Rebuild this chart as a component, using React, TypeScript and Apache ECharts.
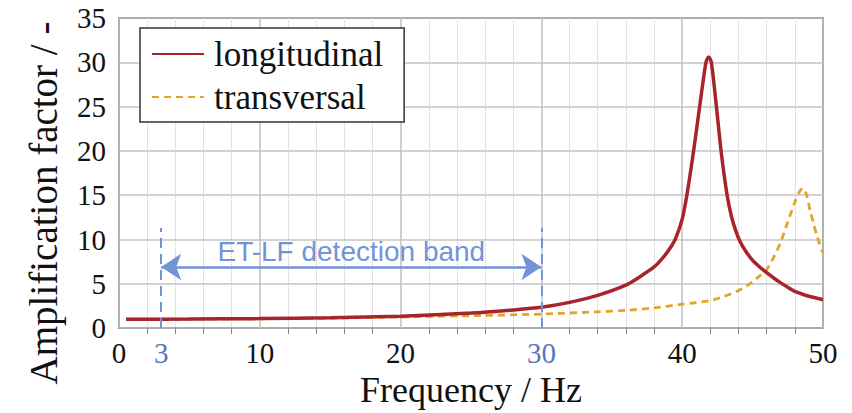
import React, { useEffect, useRef } from "react";
import * as echarts from "echarts";

const longFreq = [0.5, 5, 10, 15, 20, 25, 28, 30, 32, 34, 36, 37, 38, 38.5, 39, 39.5, 40, 40.33, 40.81, 41.24, 41.69, 41.88, 42.07, 42.43, 42.76, 43.19, 43.5, 43.8, 44.1, 44.5, 45, 45.5, 46, 46.5, 47, 47.5, 48, 48.5, 49, 49.5, 50];
const longAmp = [1.0, 1.02, 1.07, 1.16, 1.35, 1.7, 2.05, 2.35, 2.9, 3.7, 4.85, 5.8, 6.9, 7.7, 8.7, 10.0, 12.3, 15, 20, 25, 30, 30.6, 30, 25, 20, 15, 12.6, 11.0, 9.8, 8.7, 7.65, 6.9, 6.25, 5.65, 5.1, 4.6, 4.15, 3.85, 3.6, 3.4, 3.2];

const transFreq = [0.5, 5, 10, 15, 20, 25, 30, 34, 36, 38, 40, 42, 43, 44, 45, 45.5, 46, 46.5, 47, 47.5, 48, 48.3, 48.56, 48.8, 49.08, 49.3, 49.55, 50];
const transAmp = [1.0, 1.0, 1.05, 1.12, 1.25, 1.4, 1.58, 1.84, 2.0, 2.28, 2.7, 3.1, 3.6, 4.23, 5.2, 5.9, 6.6, 8.0, 9.7, 12.0, 14.2, 15.3, 15.8, 15.2, 13.3, 12.0, 10.5, 8.5];

const xTickLabels = [0, 3, 10, 20, 30, 40, 50];
const bandStart = 3;
const bandEnd = 30;
const bandLineTop = 11.3;
const bandArrowLevel = 6.9;
const bandLabel = "ET-LF detection band";
const seriesNames = ["longitudinal", "transversal"];

const RED = "#a8232b";
const ORANGE = "#e5a32a";
const BLUE = "#7393d9";
const BLUE_LABEL = "#5577c0";
const SERIF = "Liberation Serif";

export default function App() {
  const ref = useRef<HTMLDivElement>(null);
  useEffect(() => {
    if (!ref.current) return;
    const chart = echarts.init(ref.current, undefined, { renderer: "svg" });
    const longData = longFreq.map((f, i) => [f, longAmp[i]]);
    const transData = transFreq.map((f, i) => [f, transAmp[i]]);
    chart.setOption({
      animation: false,
      backgroundColor: "#ffffff",
      grid: {
        left: 119,
        right: 29,
        top: 18,
        bottom: 78,
        show: true,
        borderColor: "#3a3a3a",
        borderWidth: 1.5,
        backgroundColor: "transparent",
      },
      legend: {
        data: seriesNames,
        orient: "vertical",
        left: 140,
        top: 28,
        padding: [8, 21, 7, 11],
        itemGap: 7,
        itemWidth: 52,
        itemHeight: 14,
        itemStyle: { opacity: 0 },
        backgroundColor: "#ffffff",
        borderColor: "#333333",
        borderWidth: 1.5,
        borderRadius: 0,
        textStyle: {
          fontFamily: SERIF,
          fontSize: 35,
          color: "#111111",
          lineHeight: 36,
          padding: [0, 0, 0, 5],
        },
      },
      xAxis: {
        type: "value",
        min: 0,
        max: 50,
        interval: 10,
        name: "Frequency / Hz",
        nameLocation: "middle",
        nameGap: 40,
        nameTextStyle: { fontFamily: SERIF, fontSize: 36, color: "#111111" },
        axisLine: { show: false },
        axisTick: { show: false },
        minorTick: { show: true, splitNumber: 5, length: 6, lineStyle: { color: "#888888", width: 1 } },
        minorSplitLine: { show: true, lineStyle: { color: "#c8c8c8", width: 1, type: "dotted" } },
        splitLine: { show: true, lineStyle: { color: "#c4c4c4", width: 1.6 } },
        axisLabel: {
          customValues: xTickLabels,
          margin: 10,
          fontFamily: SERIF,
          fontSize: 29,
          color: "#111111",
          formatter: (v: number) => (v === bandStart || v === bandEnd ? `{b|${v}}` : `${v}`),
          rich: { b: { color: BLUE_LABEL, fontFamily: SERIF, fontSize: 29 } },
        },
      },
      yAxis: {
        type: "value",
        min: 0,
        max: 35,
        interval: 5,
        axisLine: { show: false },
        axisTick: { show: false },
        splitLine: { show: true, lineStyle: { color: "#c4c4c4", width: 1.6 } },
        axisLabel: { margin: 13, fontFamily: SERIF, fontSize: 29, color: "#111111" },
      },
      graphic: [
        {
          type: "text",
          x: 43,
          y: 203,
          rotation: Math.PI / 2,
          style: {
            text: "Amplification factor / -",
            fontFamily: SERIF,
            fontSize: 39,
            fill: "#111111",
            align: "center",
            verticalAlign: "middle",
          },
        },
      ],
      series: [
        {
          name: seriesNames[0],
          type: "line",
          data: longData,
          symbol: "none",
          smooth: 0.25,
          lineStyle: { color: RED, width: 3.5 },
          itemStyle: { color: RED },
          z: 3,
          markLine: {
            silent: true,
            symbol: ["none", "none"],
            label: { show: false },
            data: [
              [
                { coord: [bandStart, 0] },
                { coord: [bandStart, bandLineTop] },
              ],
              [
                { coord: [bandEnd, 0] },
                { coord: [bandEnd, bandLineTop] },
              ],
            ].map((d) => [
              { ...d[0], symbol: "none", lineStyle: { color: BLUE, width: 2, type: [10, 6] }, label: { show: false } },
              { ...d[1], symbol: "none" },
            ]),
          },
        },
        {
          name: seriesNames[1],
          type: "line",
          data: transData,
          symbol: "none",
          smooth: 0.25,
          lineStyle: { color: ORANGE, width: 2.8, type: [7, 5] },
          itemStyle: { color: ORANGE },
          z: 2,
          markLine: {
            silent: true,
            symbol: ["arrow", "arrow"],
            symbolSize: 20,
            lineStyle: { color: BLUE, width: 2.5, type: "solid" },
            label: {
              show: true,
              position: "middle",
              formatter: bandLabel,
              fontFamily: "Liberation Sans",
              fontSize: 28,
              color: BLUE,
              distance: 1,
            },
            data: [
              [
                { coord: [bandStart, bandArrowLevel] },
                { coord: [bandEnd, bandArrowLevel] },
              ],
            ],
          },
        },
      ],
    });
    return () => chart.dispose();
  }, []);
  return (
    <div
      ref={ref}
      style={{ position: "fixed", left: 0, top: 0, width: 852, height: 413, background: "#fff" }}
    />
  );
}
